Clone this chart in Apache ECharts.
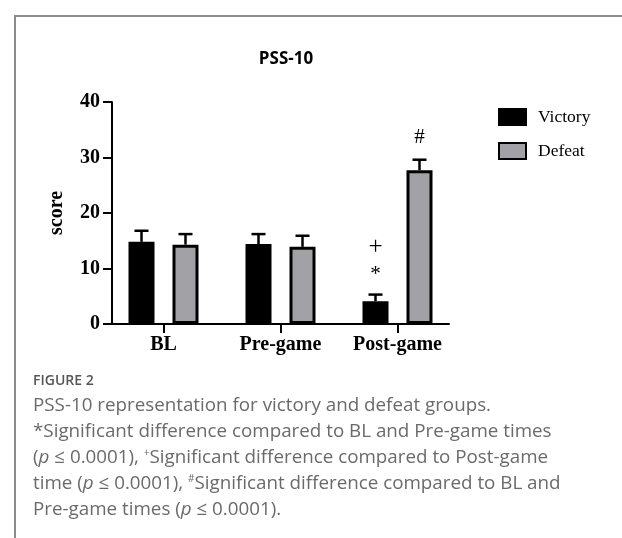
<!DOCTYPE html>
<html>
<head>
<meta charset="utf-8">
<script src="https://cdn.jsdelivr.net/npm/echarts@6/dist/echarts.min.js"></script>
<style>
	html, body { margin: 0; padding: 0; background: #fff; }
	#wrap { position: relative; width: 622px; height: 538px; overflow: hidden; }
	#frame { position: absolute; left: 14px; top: 15px; width: 640px; height: 600px;
		border-left: 2px solid #8c8c8c; border-top: 2px solid #8c8c8c; }
	#plot { position: absolute; left: 0; top: 0; width: 622px; height: 538px; }
	#caption { position: absolute; left: 33px; top: 369px; width: 585px;
		font-family: 'Open Sans', sans-serif; color: #6a6a6a; font-size: 18.8px; line-height: 26px; }
	#caption .fig { font-size: 14px; font-weight: 600; color: #555; line-height: 22px; }
	#caption sup { font-size: 10px; line-height: 0; }
</style>
</head>
<body>
<div id="wrap">
	<div id="frame"></div>
	<div id="plot"></div>
	<div id="caption">
		<div class="fig">FIGURE 2</div>
		<div>PSS-10 representation for victory and defeat groups.<br>*Significant difference compared to BL and Pre-game times<br>(<i>p</i> ≤ 0.0001), <sup>+</sup>Significant difference compared to Post-game<br>time (<i>p</i> ≤ 0.0001), <sup>#</sup>Significant difference compared to BL and<br>Pre-game times (<i>p</i> ≤ 0.0001).</div>
	</div>
</div>
<script>
const categories = ['BL', 'Pre-game', 'Post-game'];
const victoryMean = [14.8, 14.4, 4.1];
const victoryUpper = [16.8, 16.2, 5.3];
const defeatMean = [14.3, 13.9, 27.7];
const defeatUpper = [16.2, 15.9, 29.6];
// significance marks: [category index, group (0 victory, 1 defeat), y value, symbol]
const marks = [
	[2, 0, 13.8, '+'],
	[2, 0, 8.9, '*'],
	[2, 1, 33.6, '#']
];

const serif = "'Liberation Serif', 'Times New Roman', serif";
const barWidth = 26;
const barGapPx = 18;
const halfStep = (barWidth + barGapPx) / 2;

function errorItem(group) {
	return function (params, api) {
		const x = api.coord([api.value(0), 0])[0] + (group === 0 ? -halfStep : halfStep);
		const yTop = api.coord([api.value(0), api.value(1)])[1];
		const yErr = api.coord([api.value(0), api.value(2)])[1];
		const style = { stroke: '#000', lineWidth: 2.5 };
		return {
			type: 'group',
			children: [
				{ type: 'line', shape: { x1: x, y1: yTop, x2: x, y2: yErr }, style: style },
				{ type: 'line', shape: { x1: x - 7, y1: yErr, x2: x + 7, y2: yErr }, style: style }
			]
		};
	};
}

function plot() {
	const chart = echarts.init(document.getElementById('plot'));
	const option = {
		animation: false,
		title: {
			text: 'PSS-10',
			left: 281,
			top: 46,
			textAlign: 'center',
			textStyle: { fontFamily: "'Open Sans', sans-serif", fontWeight: 700, fontSize: 17, color: '#000' }
		},
		legend: {
			orient: 'vertical',
			left: 498,
			top: 108,
			padding: 0,
			icon: 'rect',
			itemWidth: 27,
			itemHeight: 16,
			itemGap: 16,
			data: ['Victory', 'Defeat'],
			textStyle: { fontFamily: serif, fontSize: 17.5, color: '#000', padding: [0, 0, 0, 7] }
		},
		grid: [
			{ left: 105, width: 351, top: 102, height: 222 },
			{ left: 112, width: 337, top: 102, height: 222 }
		],
		xAxis: [
			{
				type: 'category',
				gridIndex: 0,
				data: categories,
				axisLine: { show: false },
				axisTick: { show: true, alignWithLabel: true, length: 9, lineStyle: { color: '#000', width: 2 } },
				axisLabel: { margin: 11, fontFamily: serif, fontWeight: 'bold', fontSize: 20, color: '#000' }
			},
			{
				type: 'value',
				gridIndex: 1,
				min: 0,
				max: 1,
				axisLine: { show: true, lineStyle: { color: '#000', width: 2 } },
				axisTick: { show: false },
				axisLabel: { show: false },
				splitLine: { show: false }
			}
		],
		yAxis: [
			{ type: 'value', gridIndex: 0, min: 0, max: 40, show: false },
			{
				type: 'value',
				gridIndex: 1,
				min: 0,
				max: 40,
				interval: 10,
				name: 'score',
				nameLocation: 'middle',
				nameGap: 45,
				nameTextStyle: { fontFamily: serif, fontWeight: 'bold', fontSize: 20, color: '#000' },
				axisLine: { show: true, lineStyle: { color: '#000', width: 2 } },
				axisTick: { show: true, length: 9, lineStyle: { color: '#000', width: 2 } },
				axisLabel: { margin: 12, fontFamily: serif, fontWeight: 'bold', fontSize: 20, color: '#000' },
				splitLine: { show: false }
			}
		],
		series: [
			{
				name: 'Victory',
				type: 'bar',
				xAxisIndex: 0,
				yAxisIndex: 0,
				barWidth: barWidth,
				barGap: (barGapPx / barWidth * 100) + '%',
				data: victoryMean,
				itemStyle: { color: '#000', borderColor: '#000', borderWidth: 3 }
			},
			{
				name: 'Defeat',
				type: 'bar',
				xAxisIndex: 0,
				yAxisIndex: 0,
				barWidth: barWidth,
				data: defeatMean,
				itemStyle: { color: '#a2a2a6', borderColor: '#000', borderWidth: 3 }
			},
			{
				type: 'custom',
				xAxisIndex: 0,
				yAxisIndex: 0,
				renderItem: errorItem(0),
				data: victoryMean.map((v, i) => [i, v, victoryUpper[i]]),
				z: 3
			},
			{
				type: 'custom',
				xAxisIndex: 0,
				yAxisIndex: 0,
				renderItem: errorItem(1),
				data: defeatMean.map((v, i) => [i, v, defeatUpper[i]]),
				z: 3
			},
			{
				type: 'custom',
				xAxisIndex: 0,
				yAxisIndex: 0,
				renderItem: function (params, api) {
					const m = marks[params.dataIndex];
					const p = api.coord([m[0], m[2]]);
					return {
						type: 'text',
						x: p[0] + (m[1] === 0 ? -halfStep : halfStep),
						y: p[1],
						style: {
							text: m[3],
							fontFamily: serif,
							fontSize: m[3] === '+' ? 25 : 21,
							fill: '#000',
							align: 'center',
							verticalAlign: 'middle'
						}
					};
				},
				data: marks.map(m => [m[0], m[2]]),
				z: 4
			}
		]
	};
	chart.setOption(option);
	window.addEventListener('resize', () => {
		chart.resize();
	});
}

window.addEventListener('load', () => {
	plot();
});
</script>
</body>
</html>
